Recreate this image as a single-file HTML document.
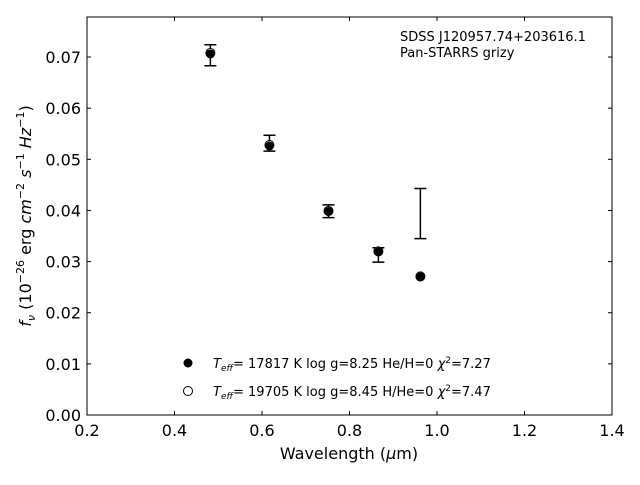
<!DOCTYPE html>
<html><head><meta charset="utf-8"><style>
body{margin:0;background:#fff;font-family:"Liberation Sans","DejaVu Sans",sans-serif}
svg text{font-family:"DejaVu Sans","Liberation Sans",sans-serif}
</style></head><body>
<svg id="c" width="640" height="480" xmlns="http://www.w3.org/2000/svg"></svg>
<script>
const bandWl=[0.482,0.617,0.752,0.866,0.962];
const obsFlux=[0.07035,0.05315,0.03985,0.0313,0.0394];
const obsErr=[0.00205,0.00155,0.00125,0.0014,0.0049];
const modelHe=[0.0706,0.0526,0.0398,0.0319,0.0270];
const modelH=[0.0708,0.0528,0.0399,0.0320,0.0271];
const xTicks=[0.2,0.4,0.6,0.8,1.0,1.2,1.4];
const xTickLabels=["0.2","0.4","0.6","0.8","1.0","1.2","1.4"];
const yTicks=[0,0.01,0.02,0.03,0.04,0.05,0.06,0.07];
const yTickLabels=["0.00","0.01","0.02","0.03","0.04","0.05","0.06","0.07"];
const L=87,R=612,T=17,B=415,xmin=0.2,xmax=1.4,ymin=0,ymax=0.07783;
const X=v=>L+(v-xmin)/(xmax-xmin)*(R-L);
const Y=v=>B-(v-ymin)/(ymax-ymin)*(B-T);
const svg=document.getElementById('c');const NS='http://www.w3.org/2000/svg';
function el(t,a,txt){const e=document.createElementNS(NS,t);for(const k in a)e.setAttribute(k,a[k]);if(txt!==undefined)e.textContent=txt;svg.appendChild(e);return e;}
let e;
e=el('rect',{x:L,y:T,width:R-L,height:B-T,fill:'none',stroke:'#000','stroke-width':1});


xTicks.forEach((t,i)=>{
 e=el('line',{x1:X(t),x2:X(t),y1:B,y2:B-4,stroke:'#000'});
 
 
 e=el('line',{x1:X(t),x2:X(t),y1:T,y2:T+4,stroke:'#000'});
 
 
 e=el('text',{x:X(t),y:B+21,'text-anchor':'middle','font-size':16},xTickLabels[i]);
 
 
});
yTicks.forEach((t,i)=>{
 e=el('line',{x1:L,x2:L+4,y1:Y(t),y2:Y(t),stroke:'#000'});
 
 
 e=el('line',{x1:R,x2:R-4,y1:Y(t),y2:Y(t),stroke:'#000'});
 
 
 e=el('text',{x:L-6,y:Y(t)+6,'text-anchor':'end','font-size':16},yTickLabels[i]);
 
 
});
bandWl.forEach((w,i)=>{
 const x=X(w),y1=Y(obsFlux[i]+obsErr[i]),y2=Y(obsFlux[i]-obsErr[i]);
 e=el('path',{d:`M${x},${y1}V${y2}M${x-6},${y1}H${x+6}M${x-6},${y2}H${x+6}`,stroke:'#000','stroke-width':1.5,fill:'none'});
 
 
 e=el('circle',{cx:x,cy:Y(modelH[i]),r:4.5,fill:'#fff',stroke:'#000'});
 
 
 e=el('circle',{cx:x,cy:Y(modelHe[i]),r:4.5,fill:'#000'});
 
 
});
e=el('text',{x:400,y:41,'font-size':13},'SDSS J120957.74+203616.1');


e=el('text',{x:400,y:57,'font-size':13},'Pan-STARRS grizy');


e=el('circle',{cx:188,cy:363,r:4.5,fill:'#000'});


e=el('circle',{cx:188,cy:391,r:4.5,fill:'#fff',stroke:'#000'});


svg.insertAdjacentHTML('beforeend',`
<text x="213" y="368" font-size="13"><tspan font-style="italic">T</tspan><tspan font-style="italic" font-size="9" dy="3">eff</tspan><tspan dy="-3">= 17817 K  log g=8.25  He/H=0  </tspan><tspan font-style="italic">χ</tspan><tspan font-size="9" dy="-5">2</tspan><tspan dy="5">=7.27</tspan></text>
<text x="213" y="396" font-size="13"><tspan font-style="italic">T</tspan><tspan font-style="italic" font-size="9" dy="3">eff</tspan><tspan dy="-3">= 19705 K  log g=8.45  H/He=0  </tspan><tspan font-style="italic">χ</tspan><tspan font-size="9" dy="-5">2</tspan><tspan dy="5">=7.47</tspan></text>
<text x="349" y="459" font-size="16" text-anchor="middle">Wavelength (<tspan font-style="italic">μ</tspan>m)</text>
<text transform="translate(31,216) rotate(-90)" font-size="16" text-anchor="middle"><tspan font-style="italic">f</tspan><tspan font-style="italic" font-size="11" dy="4">ν</tspan><tspan dy="-4"> (10</tspan><tspan font-size="11" dy="-7">−26</tspan><tspan dy="7"> erg </tspan><tspan font-style="italic">cm</tspan><tspan font-size="11" dy="-7">−2</tspan><tspan dy="7"> </tspan><tspan font-style="italic">s</tspan><tspan font-size="11" dy="-7">−1</tspan><tspan dy="7"> </tspan><tspan font-style="italic">Hz</tspan><tspan font-size="11" dy="-7">−1</tspan><tspan dy="7">)</tspan></text>`);
</script>
</body></html>
